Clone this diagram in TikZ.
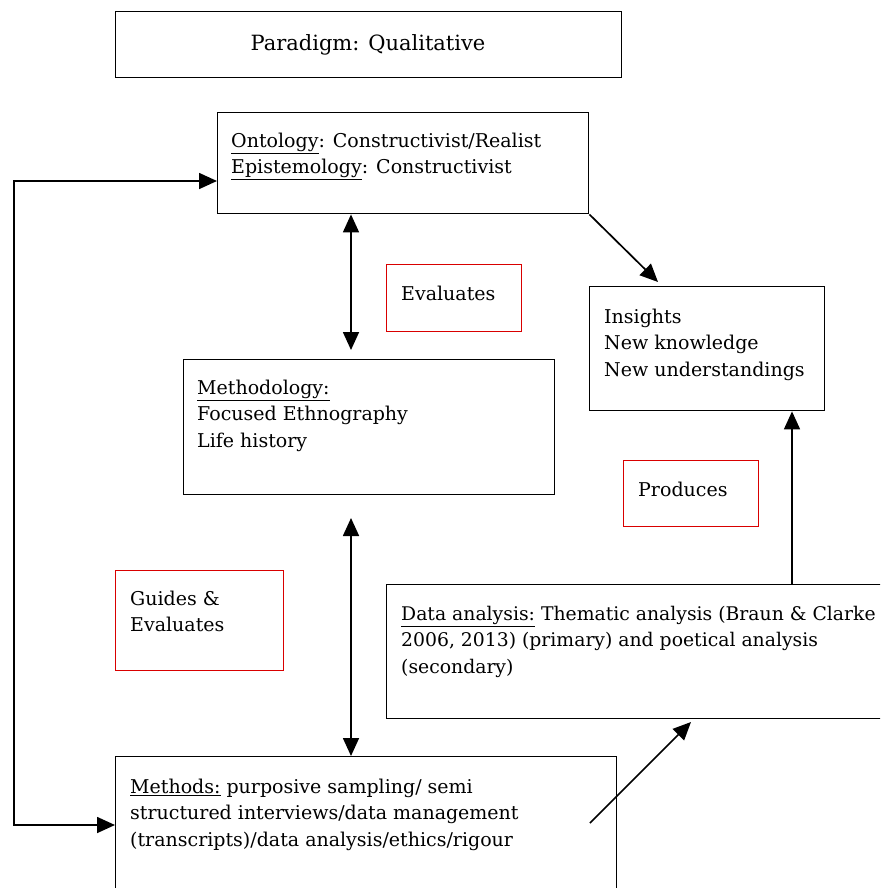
\documentclass[tikz,border=0pt]{standalone}
\usepackage{fontspec}
\setmainfont{DejaVu Serif}
\usetikzlibrary{arrows.meta}
\tikzset{
  box/.style={draw=black, line width=1.4pt, anchor=north west, inner sep=0pt},
  redbox/.style={draw=red!85!black, line width=0.9pt, anchor=north west, inner sep=0pt},
  txt/.style={anchor=north west, align=left, inner sep=0pt, font=\fontsize{19}{26.3}\selectfont},
  conn/.style={line width=1.7pt, -{Triangle[length=18pt,width=16pt]}},
  dconn/.style={line width=1.7pt, {Triangle[length=18pt,width=16pt]}-{Triangle[length=18pt,width=16pt]}},
}
\begin{document}
\begin{tikzpicture}[x=1pt,y=-1pt]
\useasboundingbox (0,0) rectangle (880,888);
\clip (0,0) rectangle (880,888);
% boxes
\node[box, minimum width=506, minimum height=66] (par) at (115,11) {};
\node[anchor=center, inner sep=0pt, font=\fontsize{21}{26}\selectfont] (partxt) at (368,45) {Paradigm: Qualitative};
\node[box, minimum width=371, minimum height=101] (ont) at (217,112) {};
\node[txt] (onttxt) at (231,133) {\underline{Ontology}: Constructivist/Realist\\\underline{Epistemology}: Constructivist};
\node[redbox, minimum width=135, minimum height=67] (eva) at (386,264) {};
\node[txt] (evatxt) at (401,286) {Evaluates};
\node[box, minimum width=235, minimum height=124] (ins) at (589,286) {};
\node[txt] (instxt) at (604,309) {Insights\\New knowledge\\New understandings};
\node[box, minimum width=371, minimum height=135] (meth) at (183,359) {};
\node[txt] (methtxt) at (197,380) {\underline{Methodology:}\\Focused Ethnography\\Life history};
\node[redbox, minimum width=135, minimum height=66] (prod) at (623,460) {};
\node[txt] (prodtxt) at (638,482) {Produces};
\node[redbox, minimum width=168, minimum height=100] (guide) at (115,570) {};
\node[txt] (guidetxt) at (130,591) {Guides \&\\Evaluates};
\node[box, minimum width=520, minimum height=134] (data) at (386,584) {};
\node[txt, font=\fontsize{18.8}{26.3}\selectfont] (datatxt) at (401,606) {\underline{Data analysis:} Thematic analysis (Braun \& Clarke\\2006, 2013) (primary) and poetical analysis\\(secondary)};
\node[box, minimum width=501, minimum height=160] (mth) at (115,756) {};
\node[txt] (mthtxt) at (130,779) {\underline{Methods:} purposive sampling/ semi\\structured interviews/data management\\(transcripts)/data analysis/ethics/rigour};
% connectors
\coordinate (loopa) at (14,825);
\coordinate (loopb) at (14,181);
\draw[dconn] (mth.west |- 0,825) -- (loopa) -- (loopb) -- (ont.west |- 0,181);
\coordinate (v1b) at (351,350);
\draw[dconn] (ont.south -| 351,0) -- (v1b);
\coordinate (v2a) at (351,518);
\draw[dconn] (v2a) -- (mth.north -| 351,0);
\coordinate (d1) at (658,282);
\draw[conn] (ont.south east) -- (d1);
\draw[conn] (data.north -| 792,0) -- (ins.south -| 792,0);
\coordinate (m1) at (590,823);
\coordinate (m2) at (691,722);
\draw[conn] (m1) -- (m2);
\end{tikzpicture}
\end{document}
